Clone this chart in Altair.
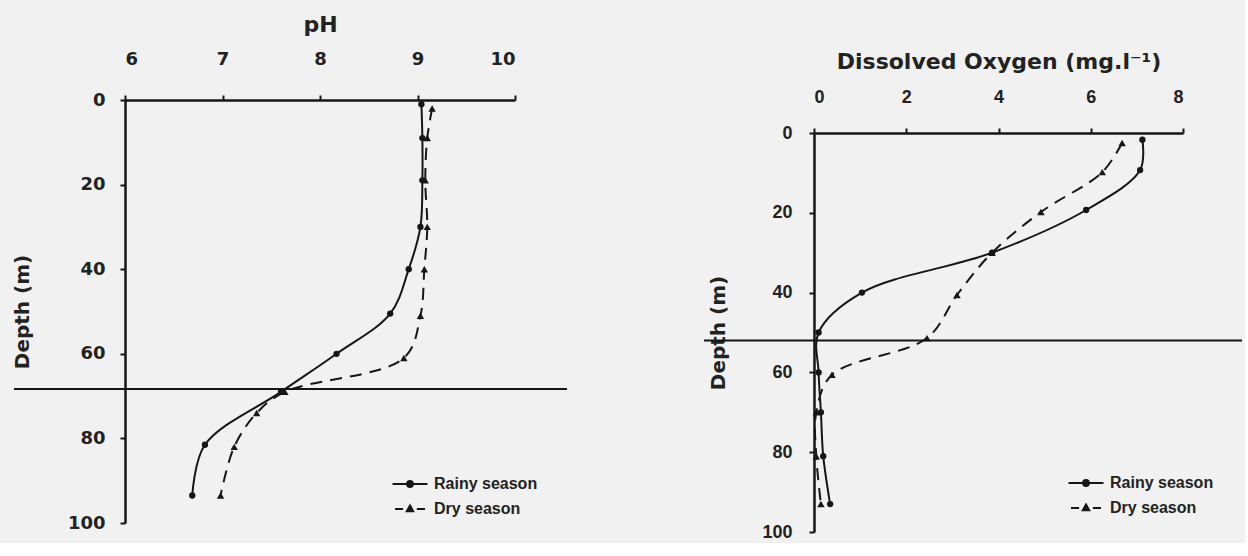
import altair as alt
import pandas as pd

# ---------------- data ----------------
seasons = ["Rainy season", "Dry season"]

ph_depth_rainy = [1, 9, 19, 30, 40, 50.5, 60, 69, 81.5, 93.5]
ph_rainy = [9.04, 9.05, 9.05, 9.03, 8.91, 8.72, 8.17, 7.60, 6.82, 6.69]
ph_depth_dry = [2, 9, 19, 30, 40, 51, 61, 69, 74, 82, 93.5]
ph_dry = [9.15, 9.10, 9.08, 9.10, 9.07, 9.03, 8.86, 7.64, 7.35, 7.12, 6.98]

do_depth_rainy = [1.7, 9.3, 19.3, 30, 40, 50, 60, 70, 81, 93]
do_rainy = [7.12, 7.07, 5.90, 3.86, 1.04, 0.10, 0.10, 0.15, 0.20, 0.35]
do_depth_dry = [2.5, 9.8, 19.8, 30, 40.6, 51.4, 60.6, 70, 81, 93]
do_dry = [6.68, 6.25, 4.92, 3.86, 3.10, 2.45, 0.39, 0.05, 0.05, 0.15]

ph_line_depth = [68.3]
do_line_depth = [52]

ph_ticks = [6, 7, 8, 9, 10]
do_ticks = [0, 2, 4, 6, 8]
depth_ticks = [0, 20, 40, 60, 80, 100]

# ---------------- style ----------------
INK = "#161616"
TXT = "#222222"
DJ = "DejaVu Sans"
LB = "Liberation Sans"


def _circle(r):
    return f"M{r},0A{r},{r},0,1,1,-{r},0A{r},{r},0,1,1,{r},0Z"


def _tri(s):
    return f"M0,{-1.1 * s:.3f}L{s:.3f},{0.7 * s:.3f}L{-s:.3f},{0.7 * s:.3f}Z"


# legend glyphs: line + (visually filled) marker, drawn as stroked paths
P_RAINY = "M-1.4,0H1.4" + "".join(_circle(r) for r in (0.24, 0.15, 0.06))
P_DRY = "M-1.2,0H-0.55M0.55,0H1.2" + "".join(_tri(s) for s in (0.27, 0.17, 0.07))


def panel(depth_r, val_r, depth_d, val_d, line_depth, xdom, xticks, xtitle,
          w, h, tick_font, x_lab_pad, y_lab_pad, x_title_pad, y_title_pad,
          rule_x, rule_x2, leg_x, leg_y):
    df_r = pd.DataFrame({"depth": depth_r, "value": val_r})
    df_d = pd.DataFrame({"depth": depth_d, "value": val_d})
    xs = alt.Scale(domain=xdom, nice=False, zero=False)
    ys = alt.Scale(domain=[0, 100], reverse=True, nice=False)
    xax = alt.Axis(orient="top", values=xticks, title=xtitle, grid=False,
                   titleFont=DJ, titleFontSize=22, titleFontWeight="bold",
                   titleColor=TXT, titlePadding=x_title_pad,
                   labelFont=tick_font, labelFontSize=18, labelFontWeight="bold",
                   labelColor=TXT, labelPadding=x_lab_pad,
                   tickSize=5, tickWidth=2, tickColor=INK,
                   domainWidth=2.5, domainColor=INK)
    yax = alt.Axis(orient="left", values=depth_ticks, title="Depth (m)",
                   grid=False, titleFont=DJ, titleFontSize=20,
                   titleFontWeight="bold", titleColor=TXT,
                   titlePadding=y_title_pad,
                   labelFont=tick_font, labelFontSize=18, labelFontWeight="bold",
                   labelColor=TXT, labelPadding=y_lab_pad,
                   tickSize=5, tickWidth=2, tickColor=INK,
                   domainWidth=2.5, domainColor=INK)
    X = alt.X("value:Q", scale=xs, axis=xax)
    Y = alt.Y("depth:Q", scale=ys, axis=yax)

    rainy_line = alt.Chart(df_r).mark_line(
        color=INK, strokeWidth=2, interpolate="catmull-rom"
    ).encode(x=X, y=Y, order=alt.Order("depth:Q"))
    dry_line = alt.Chart(df_d).mark_line(
        color=INK, strokeWidth=2, strokeDash=[12, 8], interpolate="catmull-rom"
    ).encode(x=X, y=Y, order=alt.Order("depth:Q"))
    rainy_pts = alt.Chart(df_r).mark_point(
        shape="circle", filled=True, size=40, color=INK, opacity=1
    ).encode(x=X, y=Y)
    dry_pts = alt.Chart(df_d).mark_point(
        shape="triangle-up", filled=True, size=55, color=INK, opacity=1
    ).encode(x=X, y=Y)
    rule = alt.Chart(pd.DataFrame({"depth": line_depth})).mark_rule(
        color=INK, strokeWidth=2
    ).encode(y=Y, x=alt.value(rule_x), x2=alt.value(rule_x2))
    legend_layer = alt.Chart(pd.DataFrame({"season": seasons})).mark_point(
        opacity=0, filled=False, color=INK, strokeWidth=1.8
    ).encode(
        shape=alt.Shape(
            "season:N",
            scale=alt.Scale(domain=seasons, range=[P_RAINY, P_DRY]),
            legend=alt.Legend(
                title=None, orient="none", legendX=leg_x, legendY=leg_y,
                padding=0, rowPadding=3, symbolSize=625,
                symbolStrokeWidth=1.8, symbolStrokeColor=INK,
                symbolFillColor=INK, symbolOpacity=1,
                labelFont=LB, labelFontSize=16, labelFontWeight="bold",
                labelColor=TXT, labelOffset=10.5,
            ),
        )
    )
    return alt.layer(rule, rainy_line, dry_line, rainy_pts, dry_pts,
                     legend_layer).properties(width=w, height=h)


left = panel(ph_depth_rainy, ph_rainy, ph_depth_dry, ph_dry, ph_line_depth,
             [6, 10], ph_ticks, "pH", 390, 423, DJ, 27, 15, 14, 35,
             -111, 442, 271.5, 370.5)
right = panel(do_depth_rainy, do_rainy, do_depth_dry, do_dry, do_line_depth,
              [0, 8], do_ticks, "Dissolved Oxygen (mg.l\u207b\u00b9)",
              369, 399, LB, 22, 17, 15, 33,
              -110, 428, 258.5, 369.5)

spacer = alt.Chart(pd.DataFrame({"a": [0]})).mark_point(opacity=0).encode(
    x=alt.value(0), y=alt.value(0)
).properties(width=369, height=33)

chart = alt.hconcat(
    left,
    alt.vconcat(spacer, right, spacing=0, bounds="flush"),
    spacing=299, bounds="flush",
).resolve_scale(shape="independent").configure(
    background="#f1f1f1",
    padding={"left": 12, "top": 13, "right": 2, "bottom": 2},
).configure_view(strokeWidth=0)

chart.save("out.html", embed_options={"renderer": "svg", "actions": False})
